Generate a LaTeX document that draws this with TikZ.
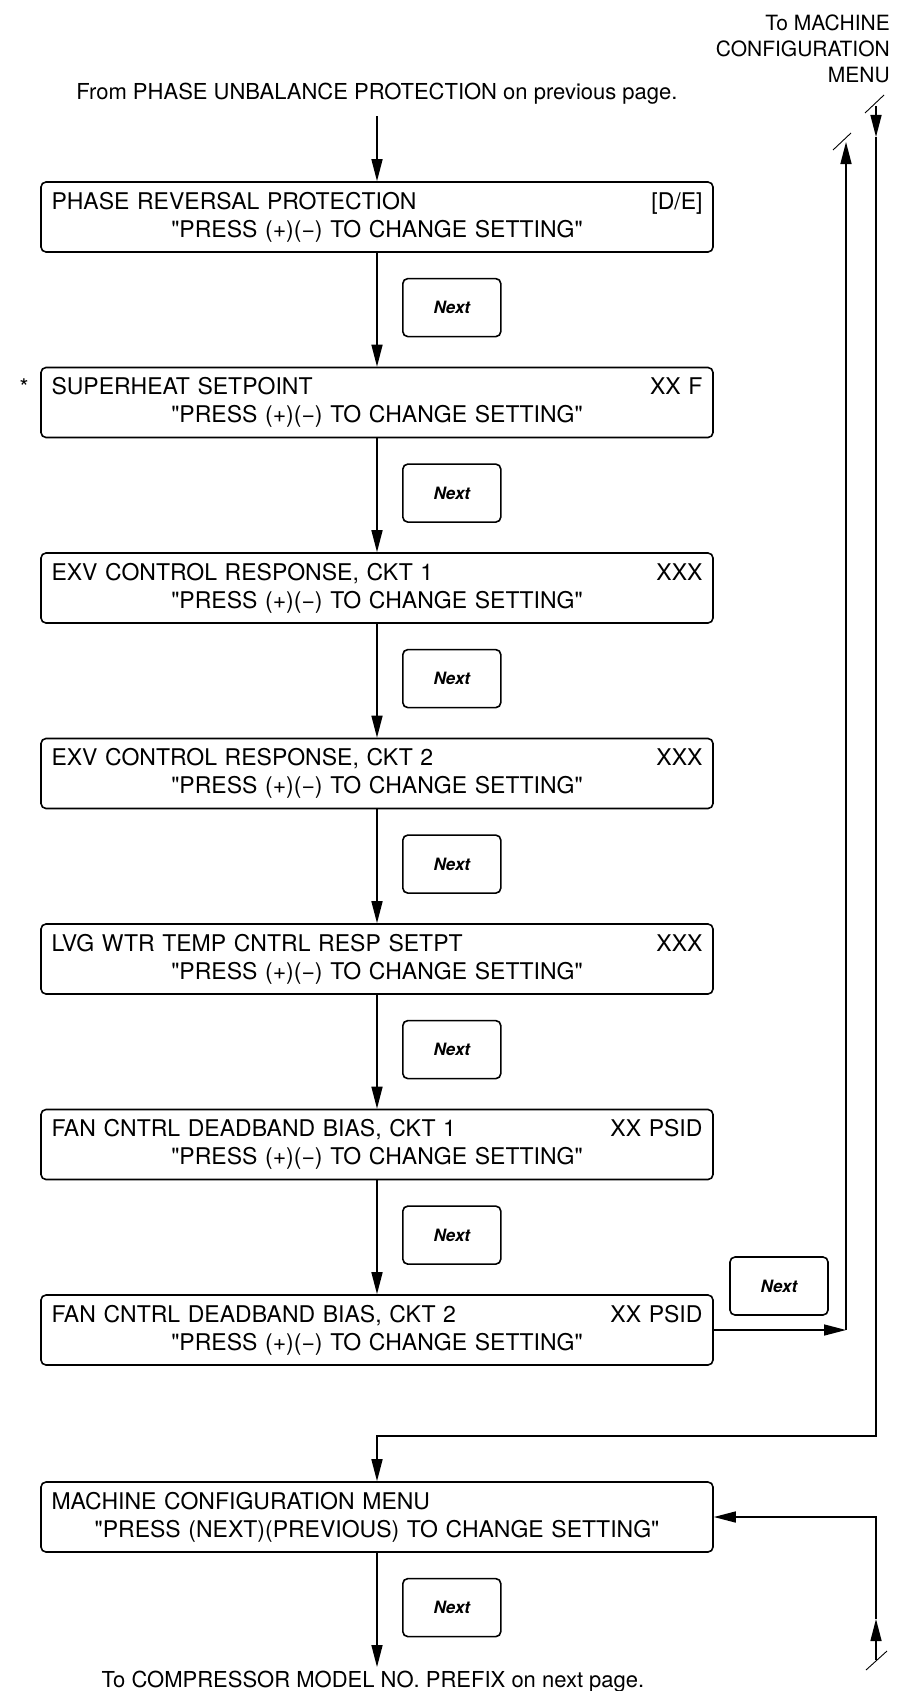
\documentclass[tikz,border=0pt]{standalone}
\usepackage{fontspec}
\setmainfont{TeX Gyre Heros}
\usetikzlibrary{arrows.meta,positioning,calc}

\begin{document}
\begin{tikzpicture}[x=1pt, y=-1pt, >={Triangle[length=22pt,width=11pt]},
  menu/.style={draw, line width=1.6pt, rounded corners=5pt, minimum width=672pt,
    minimum height=70pt, text width=651pt, inner xsep=10.5pt, align=center,
    font=\fontsize{23}{28}\selectfont},
  nextbtn/.style={draw, line width=1.6pt, rounded corners=5pt, minimum width=98pt,
    minimum height=58pt, font=\fontsize{17}{20}\selectfont\bfseries\itshape},
  flow/.style={->, line width=1.5pt},
  cut/.style={line width=0.9pt}]
  % Fix the page size
  \useasboundingbox (0,0) rectangle (902,1691);

  % Where the list comes from and where the side path goes
  \node[font=\fontsize{22}{26}\selectfont, anchor=base] (from) at (377,100)
    {From PHASE UNBALANCE PROTECTION on previous page.};
  \node[font=\fontsize{21}{26}\selectfont, align=right, anchor=north east, inner sep=0pt]
    (tomenu) at (890,15) {To MACHINE\\CONFIGURATION\\MENU};

  % Draw the setting boxes
  \foreach \i/\name/\val in {1/{PHASE REVERSAL PROTECTION}/{[D/E]},
      2/{SUPERHEAT SETPOINT}/{XX F},
      3/{EXV CONTROL RESPONSE, CKT 1}/{XXX},
      4/{EXV CONTROL RESPONSE, CKT 2}/{XXX},
      5/{LVG WTR TEMP CNTRL RESP SETPT}/{XXX},
      6/{FAN CNTRL DEADBAND BIAS, CKT 1}/{XX PSID},
      7/{FAN CNTRL DEADBAND BIAS, CKT 2}/{XX PSID}} {
    \node[menu] (b\i) at (377,{217+(\i-1)*185.5})
      {\name\hfill\val\\\textquotedbl PRESS (+)(−) TO CHANGE SETTING\textquotedbl};
  }
  \node[menu] (b8) at (377,1517)
    {MACHINE CONFIGURATION MENU\hfill\mbox{}\\
     \textquotedbl PRESS (NEXT)(PREVIOUS) TO CHANGE SETTING\textquotedbl};

  % The star in front of the superheat box
  \node[font=\fontsize{23}{28}\selectfont, anchor=base] (ast) at (24,395) {*};

  % Next keys beside the arrows
  \foreach \i in {1,...,6} {
    \node[nextbtn, below right=25pt and 25pt of b\i.south] (n\i) {Next};
  }
  \node[nextbtn, below right=25pt and 25pt of b8.south] (n8) {Next};
  \node[nextbtn] (nr) at (779,1286) {Next};

  % Main chain of arrows
  \draw[flow, shorten <=8pt] (from) -- (b1);
  \foreach \i in {1,...,6} {
    \pgfmathtruncatemacro\j{\i+1}
    \draw[flow] (b\i) -- (b\j);
  }

  % Leaving to the machine configuration menu
  \coordinate (uptop) at (846,142);
  \draw[flow] (b7.east) -- (b7.east -| uptop);
  \draw[flow] (b7.east -| uptop) -- (uptop);
  \draw[cut] ($(uptop)+(-13,8)$) -- ($(uptop)+(5,-9)$);

  % Coming back into the machine configuration menu
  \coordinate (dntop) at (876,106);
  \coordinate (dnhead) at (876,137);
  \coordinate (dncorner) at (876,1436);
  \draw[flow] (dntop) -- (dnhead);
  \draw[flow] (dnhead) -- (dncorner) -| (b8.north);
  \draw[cut] (865,113) -- (884,95);

  % Return from below
  \coordinate (rbot) at (876,1660);
  \coordinate (rhead) at (876,1619);
  \draw[flow] (rbot) -- (rhead);
  \draw[flow] (rhead) |- (b8.east);
  \draw[cut] (866,1670) -- (887,1651);

  % Out to the next page
  \node[font=\fontsize{22}{26}\selectfont, anchor=base] (tocomp) at (373,1687)
    {To COMPRESSOR MODEL NO. PREFIX on next page.};
  \draw[flow] (b8.south) -- (b8.south |- tocomp.north);
\end{tikzpicture}
\end{document}
